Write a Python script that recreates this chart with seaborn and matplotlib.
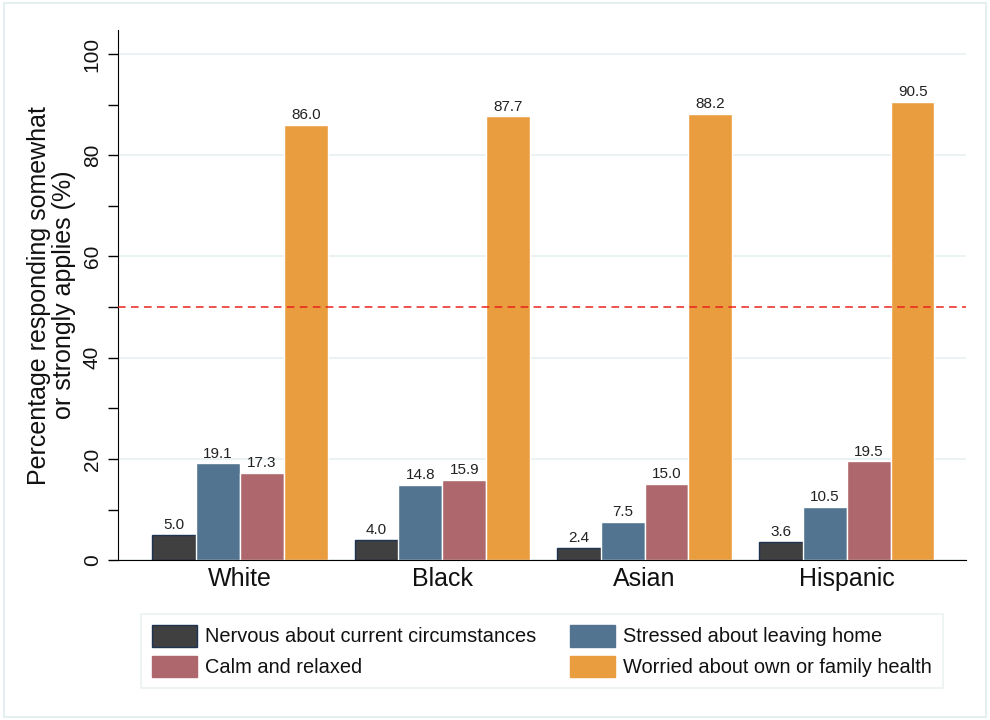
import pandas as pd
import matplotlib.pyplot as plt
import seaborn as sns
from matplotlib.patches import Patch

groups = ['White', 'Black', 'Asian', 'Hispanic']
measures = ['Nervous about current circumstances', 'Stressed about leaving home',
            'Calm and relaxed', 'Worried about own or family health']
nervous = [5.0, 4.0, 2.4, 3.6]
stressed = [19.1, 14.8, 7.5, 10.5]
calm = [17.3, 15.9, 15.0, 19.5]
worried = [86.0, 87.7, 88.2, 90.5]
colors = ['#404040', '#527491', '#ae676c', '#e99d3f']

df = pd.DataFrame({
    'group': groups * 4,
    'measure': [m for m in measures for _ in groups],
    'pct': nervous + stressed + calm + worried,
})

sns.set_style('white')
plt.rcParams['font.family'] = ['Liberation Sans', 'DejaVu Sans']
plt.rcParams['text.color'] = '#111111'
plt.rcParams['axes.labelcolor'] = '#111111'
plt.rcParams['xtick.color'] = '#111111'
plt.rcParams['ytick.color'] = '#111111'

fig = plt.figure(figsize=(9.9, 7.2), dpi=100)
ax = fig.add_axes([0.119, 0.222, 0.857, 0.736])

sns.barplot(data=df, x='group', y='pct', hue='measure', order=groups,
            hue_order=measures, palette=colors, width=0.866, gap=0,
            saturation=1, legend=False, ax=ax, linewidth=1, edgecolor='white')

# dark bars get a navy outline like the original
for p in ax.containers[0]:
    p.set_edgecolor('#1d3352')

for c in ax.containers:
    ax.bar_label(c, fmt='%.1f', fontsize=11, padding=2, color='#222222')

ax.axhline(50, color='#e8231c', ls=(0, (5, 3.5)), lw=1.1, zorder=5)

ax.set_ylim(0, 104.7)
ax.set_xlim(-0.604, 3.59)
ax.set_yticks([0, 20, 40, 60, 80, 100])
ax.set_yticks(range(10, 100, 20), minor=True)
ax.grid(axis='y', which='major', color='#e8f0f2', lw=1.2)
ax.set_axisbelow(True)
ax.tick_params(axis='y', which='both', length=7.5, width=1, color='black',
               left=True, labelsize=15, pad=4)
ax.tick_params(axis='x', length=0, labelsize=18, pad=5)
for t in ax.get_yticklabels():
    t.set_rotation(90)
    t.set_va('center')
ax.set_xlabel('')
ax.set_ylabel('Percentage responding somewhat\nor strongly applies (%)', fontsize=18,
              labelpad=5, linespacing=1.05)
ax.spines['top'].set_visible(False)
ax.spines['right'].set_visible(False)
ax.spines['left'].set_color('black')
ax.spines['bottom'].set_color('black')

handles = [Patch(facecolor=colors[0], edgecolor='#1d3352', lw=1)]
handles += [Patch(facecolor=c, edgecolor=c) for c in colors[1:]]
# order so that columns read row-wise like the original
order = [0, 2, 1, 3]
leg = fig.legend([handles[i] for i in order], [measures[i] for i in order],
                 ncol=2, loc='center', bbox_to_anchor=(0.5475, 0.0958),
                 fontsize=14.4, frameon=True, fancybox=False, handlelength=2.25,
                 handleheight=1.3, columnspacing=1.7, borderpad=0.55, labelspacing=0.45,
                 handletextpad=0.4, borderaxespad=0)
leg.get_frame().set_edgecolor('#e6efef')
leg.get_frame().set_linewidth(1.2)

fig.patches.append(plt.Rectangle((0.004, 0.004), 0.992, 0.992, transform=fig.transFigure,
                                 fill=False, edgecolor='#e6efef', lw=1.5))

fig.savefig('out.png', dpi=100, facecolor='white')
